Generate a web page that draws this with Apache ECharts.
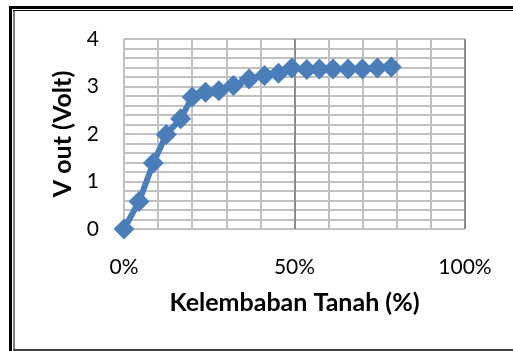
<!DOCTYPE html>
<html>
<head>
<meta charset="utf-8">
<script src="https://cdn.jsdelivr.net/npm/echarts@6/dist/echarts.min.js"></script>
<style>
  html, body { margin: 0; padding: 0; background: #fff; }
  #chart { width: 513px; height: 351px; }
</style>
</head>
<body>
<div id="chart"></div>
<script>
// Soil moisture (%) vs. sensor output voltage (V)
const kelembaban = [0, 4.4, 8.6, 12.4, 16.6, 20.0, 23.9, 27.8, 32.1, 36.7, 41.2, 45.3, 49.2, 53.6, 57.3, 61.3, 65.7, 69.9, 74.3, 78.4];
const vout = [0, 0.58, 1.39, 1.99, 2.32, 2.78, 2.88, 2.91, 3.02, 3.16, 3.23, 3.28, 3.39, 3.36, 3.37, 3.37, 3.37, 3.37, 3.39, 3.41];
const xTicks = ['0%', '50%', '100%'];
const yTicks = ['0', '1', '2', '3', '4'];

const FONT = 'Lato, "Open Sans", sans-serif';
const chart = echarts.init(document.getElementById('chart'), null, { renderer: 'canvas' });

const points = kelembaban.map((x, i) => [x, vout[i]]);

chart.setOption({
  animation: false,
  backgroundColor: '#ffffff',
  grid: { left: 124, top: 39, right: 48, bottom: 122, containLabel: false },
  xAxis: {
    type: 'value', min: 0, max: 100, interval: 50,
    name: 'Kelembaban Tanah (%)', nameLocation: 'middle', nameGap: 61,
    nameTextStyle: { fontFamily: FONT, fontWeight: 'bold', fontSize: 25, color: '#000' },
    axisLine: { show: false },
    axisTick: { show: false },
    axisLabel: {
      margin: 28, fontFamily: FONT, fontSize: 21, color: '#000',
      formatter: v => xTicks[Math.round(v / 50)]
    },
    splitLine: { show: true, lineStyle: { color: ['#c0c0c0', '#8c8c8c', '#8c8c8c'], width: 2 } },
    minorTick: { show: false, splitNumber: 5 },
    minorSplitLine: { show: true, lineStyle: { color: '#c0c0c0', width: 2 } }
  },
  yAxis: {
    type: 'value', min: 0, max: 4, interval: 1,
    name: 'V out (Volt)', nameLocation: 'middle', nameGap: 48,
    nameTextStyle: { fontFamily: FONT, fontWeight: 'bold', fontSize: 25, color: '#000' },
    axisLine: { show: false },
    axisTick: { show: false },
    axisLabel: {
      margin: 25, fontFamily: FONT, fontSize: 21, color: '#000',
      formatter: v => yTicks[Math.round(v)]
    },
    splitLine: { show: true, lineStyle: { color: '#c0c0c0', width: 2 } },
    minorTick: { show: false, splitNumber: 5 },
    minorSplitLine: { show: true, lineStyle: { color: '#c0c0c0', width: 2 } }
  },
  series: [{
    type: 'line',
    data: points,
    symbol: 'diamond',
    symbolSize: 21,
    lineStyle: { color: '#4a7ebb', width: 6 },
    itemStyle: { color: '#4a7ebb' },
    clip: false,
    z: 5
  }],
  graphic: [
    { type: 'line', shape: { x1: 9, y1: 7.5, x2: 513, y2: 7.5 }, style: { stroke: '#000', lineWidth: 3 } },
    { type: 'line', shape: { x1: 13, y1: 10.5, x2: 513, y2: 10.5 }, style: { stroke: '#000', lineWidth: 1 } },
    { type: 'line', shape: { x1: 10.5, y1: 6, x2: 10.5, y2: 351 }, style: { stroke: '#000', lineWidth: 3 } },
    { type: 'line', shape: { x1: 14, y1: 10, x2: 14, y2: 351 }, style: { stroke: '#000', lineWidth: 1 } },
    { type: 'line', shape: { x1: 14, y1: 350, x2: 513, y2: 350 }, style: { stroke: '#000', lineWidth: 1.5 } }
  ]
});
</script>
</body>
</html>
